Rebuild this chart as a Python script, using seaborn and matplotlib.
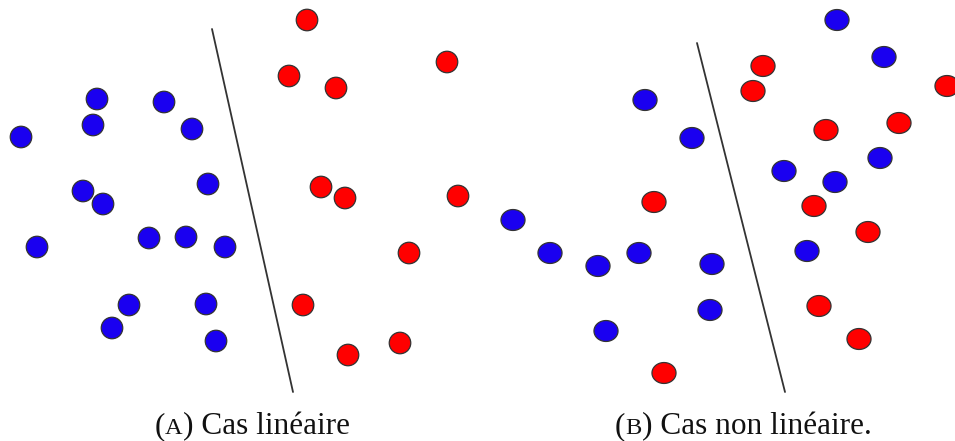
import numpy as np
import pandas as pd
import matplotlib.pyplot as plt
import seaborn as sns
from matplotlib.path import Path

# point positions (pixel-like units, y downwards)
a_blue_x = [97, 164, 93, 192, 21, 208, 83, 103, 37, 149, 186, 225, 129, 206, 112, 216]
a_blue_y = [99, 102, 125, 129, 137, 184, 191, 204, 247, 238, 237, 247, 305, 304, 328, 341]
a_red_x = [307, 447, 289, 336, 321, 345, 458, 409, 303, 400, 348]
a_red_y = [20, 62, 76, 88, 187, 198, 196, 253, 305, 343, 355]
a_line_x = [212, 293]
a_line_y = [29, 392]

b_blue_x = [837, 884, 645, 692, 880, 784, 835, 513, 550, 598, 639, 712, 807, 710, 606]
b_blue_y = [20, 57, 100, 138, 158, 171, 182, 220, 253, 266, 253, 264, 251, 310, 331]
b_red_x = [763, 753, 947, 826, 899, 654, 814, 868, 819, 859, 664]
b_red_y = [66, 91, 86, 130, 123, 202, 206, 232, 306, 339, 373]
b_line_x = [697, 785]
b_line_y = [43, 392]

# caption parts: "(", small-caps letter, rest
caption_letters = ["A", "B"]
caption_rest = [") Cas linéaire", ") Cas non linéaire."]
caption_x = [252, 743]
caption_y = [425, 425]

colors = {"blue": "#1a00f0", "red": "#ff0000"}
serif = ["Liberation Serif", "DejaVu Serif"]


def make_frame(bx, by, rx, ry):
    return pd.DataFrame({
        "x": bx + rx,
        "y": by + ry,
        "cls": ["blue"] * len(bx) + ["red"] * len(rx),
    })


def small_caps_caption(fig, ax, letter, rest, cx, cy, size=22.5):
    renderer = fig.canvas.get_renderer()
    parts = [("(", size), (letter, size * 0.78), (rest, size)]
    texts = []
    for s, fs in parts:
        t = ax.text(0, cy, s, ha="left", va="baseline", fontsize=fs,
                    family=serif, color="#111111")
        texts.append(t)
    widths = [t.get_window_extent(renderer).width for t in texts]
    total = sum(widths)
    # convert pixel widths to data units (x axis is 1 unit per pixel)
    x0 = cx - total / 2
    for t, w in zip(texts, widths):
        t.set_x(x0)
        x0 += w


def main():
    sns.set_style("white")
    fig = plt.figure(figsize=(9.55, 4.41), dpi=100)
    ax = fig.add_axes([0, 0, 1, 1])
    ax.set_xlim(0, 955)
    ax.set_ylim(441, 0)

    df_a = make_frame(a_blue_x, a_blue_y, a_red_x, a_red_y)
    df_b = make_frame(b_blue_x, b_blue_y, b_red_x, b_red_y)

    # slightly flattened ellipse marker for the second panel
    t = np.linspace(0, 2 * np.pi, 60)
    ellipse = Path(np.column_stack([np.cos(t), 0.87 * np.sin(t)]), closed=True)

    sns.scatterplot(data=df_a, x="x", y="y", hue="cls", palette=colors, s=240,
                    edgecolor="#333333", linewidth=0.9, legend=False, ax=ax, zorder=3)
    sns.scatterplot(data=df_b, x="x", y="y", hue="cls", palette=colors, s=300,
                    marker=ellipse, edgecolor="#333333", linewidth=0.9,
                    legend=False, ax=ax, zorder=3)

    ax.plot(a_line_x, a_line_y, color="#333333", lw=1.3, zorder=2)
    ax.plot(b_line_x, b_line_y, color="#333333", lw=1.3, zorder=2)

    ax.set_xlim(0, 955)
    ax.set_ylim(441, 0)
    ax.axis("off")

    for letter, rest, cx, cy in zip(caption_letters, caption_rest, caption_x, caption_y):
        small_caps_caption(fig, ax, letter, rest, cx, cy + 9)

    plt.savefig("out.png", dpi=100)


if __name__ == "__main__":
    main()
